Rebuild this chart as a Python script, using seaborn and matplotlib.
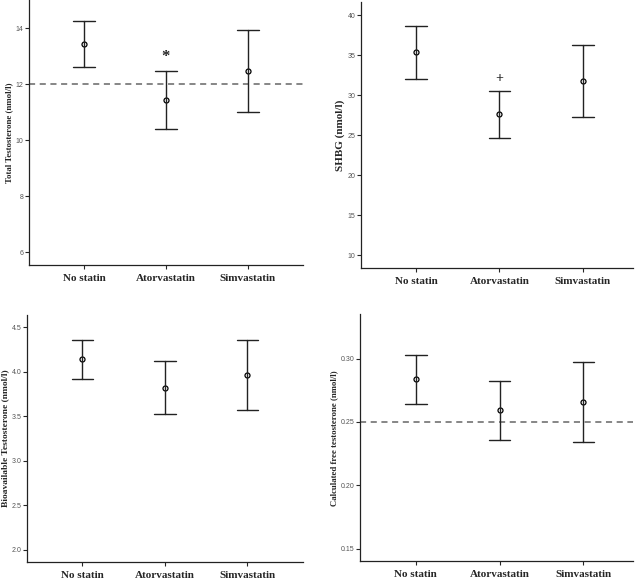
import pandas as pd
import matplotlib
matplotlib.use("Agg")
import matplotlib.pyplot as plt
import seaborn as sns

# Grupos (eixo x)
grupos = ["No statin", "Atorvastatin", "Simvastatin"]

# Painel 1: testosterona total (média e IC 95%)
tt_media = [13.44, 11.43, 12.46]
tt_inf = [12.62, 10.38, 10.99]
tt_sup = [14.26, 12.46, 13.93]

# Painel 2: SHBG
shbg_media = [35.34, 27.60, 31.78]
shbg_inf = [32.00, 24.63, 27.26]
shbg_sup = [38.63, 30.58, 36.33]

# Painel 3: testosterona biodisponível
bio_media = [4.14, 3.82, 3.96]
bio_inf = [3.92, 3.53, 3.57]
bio_sup = [4.36, 4.12, 4.36]

# Painel 4: testosterona livre calculada
livre_media = [0.2836, 0.2594, 0.2656]
livre_inf = [0.2643, 0.2360, 0.2338]
livre_sup = [0.3030, 0.2826, 0.2970]


def tabela(inf, media, sup):
    # cada grupo recebe limite inferior, média e limite superior;
    # a mediana dá a média e o intervalo 0-100% dá o IC
    linhas = []
    for g, a, m, b in zip(grupos, inf, media, sup):
        for v in (a, m, b):
            linhas.append({"grupo": g, "valor": v})
    return pd.DataFrame(linhas)


sns.set_theme(style="ticks")
plt.rcParams["font.family"] = ["Liberation Serif", "DejaVu Serif"]

fig = plt.figure(figsize=(6.4, 5.81), dpi=100)

paineis = [
    # (posição, dados, rótulo y, tamanho do rótulo, ylim, yticks, xlim, linha tracejada, marca)
    ([0.0453, 0.5439, 0.428, 0.456], (tt_inf, tt_media, tt_sup),
     "Total Testosterone (nmol/l)", 6.4, (5.54, 15.0), [6, 8, 10, 12, 14], (-0.67, 2.67),
     12, ("*", 12.96, 12)),
    ([0.5640, 0.5380, 0.425, 0.458], (shbg_inf, shbg_media, shbg_sup),
     "SHBG (nmol/l)", 8.0, (8.38, 41.6), [10, 15, 20, 25, 30, 35, 40], (-0.66, 2.6),
     None, ("+", 32.12, 10)),
    ([0.0427, 0.0320, 0.430, 0.426], (bio_inf, bio_media, bio_sup),
     "Bioavailable Testosterone (nmol/l)", 6.8, (1.86, 4.64), [2.0, 2.5, 3.0, 3.5, 4.0, 4.5],
     (-0.667, 2.67), None, None),
    ([0.5630, 0.0340, 0.426, 0.425], (livre_inf, livre_media, livre_sup),
     "Calculated free testosterone (nmol/l)", 6.3, (0.140, 0.335), [0.15, 0.20, 0.25, 0.30],
     (-0.66, 2.59), 0.25, None),
]

for pos, (inf, media, sup), rotulo, tam_rot, ylim, yticks, xlim, ref, marca in paineis:
    ax = fig.add_axes(pos)
    df = tabela(inf, media, sup)
    sns.pointplot(data=df, x="grupo", y="valor", order=grupos,
                  estimator="median", errorbar=("pi", 100),
                  capsize=0.26, color="black", linestyle="none",
                  marker="o", markersize=3.6, markerfacecolor="none",
                  markeredgewidth=0.9,
                  err_kws={"linewidth": 1.0, "color": "#222222"}, ax=ax)
    if ref is not None:
        ax.axhline(ref, color="#666666", linestyle=(0, (4, 3)), linewidth=1.1, zorder=0)
    if marca is not None:
        txt, yv, tam = marca
        ax.text(1, yv, txt, ha="center", va="center", fontsize=tam,
                fontweight="bold", color="#222222")
    ax.set_xlim(*xlim)
    ax.set_ylim(*ylim)
    ax.set_yticks(yticks)
    if isinstance(yticks[0], float):
        ax.set_yticklabels([f"{t:.2f}" if t < 1 else f"{t:.1f}" for t in yticks])
    ax.set_xlabel("")
    ax.set_ylabel(rotulo, fontsize=tam_rot, fontweight="bold", labelpad=2)
    sns.despine(ax=ax)
    for lado in ("left", "bottom"):
        ax.spines[lado].set_linewidth(0.9)
        ax.spines[lado].set_color("#222222")
    ax.tick_params(axis="y", length=3, width=0.8, labelsize=5, pad=1,
                   labelcolor="#555555", labelfontfamily="Liberation Sans")
    ax.tick_params(axis="x", length=3, width=0.8, labelsize=8, pad=3.5)
    for lbl in ax.get_xticklabels():
        lbl.set_fontweight("bold")

fig.savefig("out.png", dpi=100, facecolor="white")
